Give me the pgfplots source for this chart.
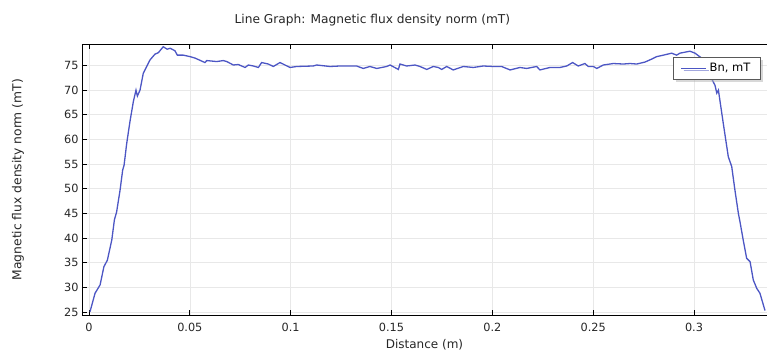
\documentclass[border=0pt]{standalone}
\usepackage{fontspec}
\setmainfont{DejaVu Sans}
\usepackage{pgfplots}
\pgfplotsset{compat=1.18}
\usetikzlibrary{shadows}
\definecolor{linecol}{RGB}{76,86,196}
\begin{document}
\begin{tikzpicture}
\begin{axis}[
  scale only axis,
  width=685pt, height=270.5pt,
  at={(0pt,0pt)}, anchor=south west,
  xmin=-0.00347, xmax=0.3362,
  ymin=24.39, ymax=79.26,
  xtick={0,0.05,0.1,0.15,0.2,0.25,0.3},
  xticklabels={0,0.05,0.1,0.15,0.2,0.25,0.3},
  ytick={25,30,...,75},
  axis y line*=left,
  tick align=inside,
  major tick length=5pt,
  xtick pos=both,
  grid=major,
  major grid style={draw=black!9, line width=0.6pt},
  axis line style={line width=0.8pt},
  every tick/.style={black, line width=0.8pt},
  /pgf/number format/assume math mode=true,
  tick label style={font=\fontsize{11.3}{13}\selectfont, text=black!85},
  xticklabel style={yshift=-5pt},
  title={Line Graph: Magnetic flux density norm (mT)},
  title style={at={(rel axis cs:0.424,1)}, anchor=center, yshift=18pt, font=\fontsize{12.2}{14}\selectfont, text=black!85},
  xlabel={Distance (m)},
  xlabel style={at={(rel axis cs:0.5,0)}, anchor=center, yshift=-29.5pt, font=\fontsize{12}{14}\selectfont, text=black!85},
  ylabel={Magnetic flux density norm (mT)},
  ylabel style={at={(rel axis cs:-0.0934,0.5)}, anchor=center, font=\fontsize{12.3}{14}\selectfont, text=black!85},
  legend pos=north east,
  legend style={at={(0.991,0.954)}, anchor=north east,
    draw=black!65, line width=0.9pt, fill=white,
    drop shadow={shadow xshift=2.5pt, shadow yshift=-2.5pt, fill=black!30},
    font=\fontsize{11.5}{14}\selectfont, inner xsep=7pt, inner ysep=4pt,
    nodes={inner xsep=3pt}},
  legend cell align=left,
]
\addplot[linecol, line width=1.3pt,
  legend image code/.code={\draw[linecol, line width=1.3pt] (0pt,0pt) -- (25pt,0pt);}] coordinates {
(0.0005,25.06) (0.0030,28.8) (0.0055,30.5) (0.0074,34.2) (0.0091,35.5)
(0.0113,39.6) (0.0126,43.7) (0.0137,45.3) (0.0154,49.7) (0.0167,53.8)
(0.0174,54.8) (0.0187,59.2) (0.0203,63.6) (0.0220,67.7) (0.0233,70.0)
(0.0240,68.8) (0.0253,70.0) (0.0269,73.4) (0.0302,76.1) (0.0327,77.3)
(0.0344,77.6) (0.0368,78.8) (0.0388,78.3) (0.0402,78.5) (0.0426,78.0)
(0.0438,77.1) (0.0468,77.1) (0.0501,76.8) (0.0526,76.5) (0.0575,75.6)
(0.0584,76.0) (0.0633,75.8) (0.0666,76.0) (0.0683,75.8) (0.0716,75.1)
(0.0740,75.2) (0.0774,74.6) (0.0790,75.1) (0.0815,74.9) (0.0840,74.6)
(0.0856,75.6) (0.0889,75.3) (0.0914,74.8) (0.0947,75.6) (0.0972,75.1)
(0.0997,74.6) (0.1030,74.8) (0.1112,74.9) (0.1129,75.1) (0.1195,74.8)
(0.1245,74.9) (0.1327,74.9) (0.1360,74.4) (0.1393,74.8) (0.1427,74.4)
(0.1476,74.8) (0.1493,75.1) (0.1534,74.2) (0.1542,75.3) (0.1575,74.9)
(0.1617,75.1) (0.1641,74.8) (0.1675,74.2) (0.1707,74.8) (0.1732,74.6)
(0.1749,74.2) (0.1774,74.8) (0.1806,74.1) (0.1856,74.8) (0.1906,74.6)
(0.1955,74.9) (0.2005,74.8) (0.2046,74.8) (0.2088,74.1) (0.2137,74.6)
(0.2170,74.4) (0.2220,74.8) (0.2236,74.1) (0.2286,74.6) (0.2335,74.6)
(0.2369,74.9) (0.2398,75.6) (0.2426,74.9) (0.2459,75.4) (0.2476,74.8)
(0.2501,74.8) (0.2518,74.4) (0.2550,75.1) (0.2600,75.4) (0.2649,75.3)
(0.2683,75.4) (0.2716,75.3) (0.2757,75.7) (0.2790,76.3) (0.2815,76.8)
(0.2848,77.1) (0.2889,77.5) (0.2914,77.1) (0.2930,77.5) (0.2980,77.9)
(0.3005,77.5) (0.3038,76.5) (0.3065,74.5) (0.3085,72.5) (0.3104,71.0)
(0.3113,69.4) (0.3121,70.0) (0.3145,63.3) (0.3170,56.5) (0.3187,54.5)
(0.3203,49.7) (0.3220,45.0) (0.3228,43.3) (0.3244,39.6) (0.3261,35.9)
(0.3278,35.2) (0.3294,31.5) (0.3311,29.8) (0.3327,28.8) (0.3352,25.3)
};
\addlegendentry{Bn, mT}
\end{axis}
\pgfresetboundingbox
\path (-82pt,-36pt) rectangle (685pt,315pt);
\end{tikzpicture}
\end{document}
